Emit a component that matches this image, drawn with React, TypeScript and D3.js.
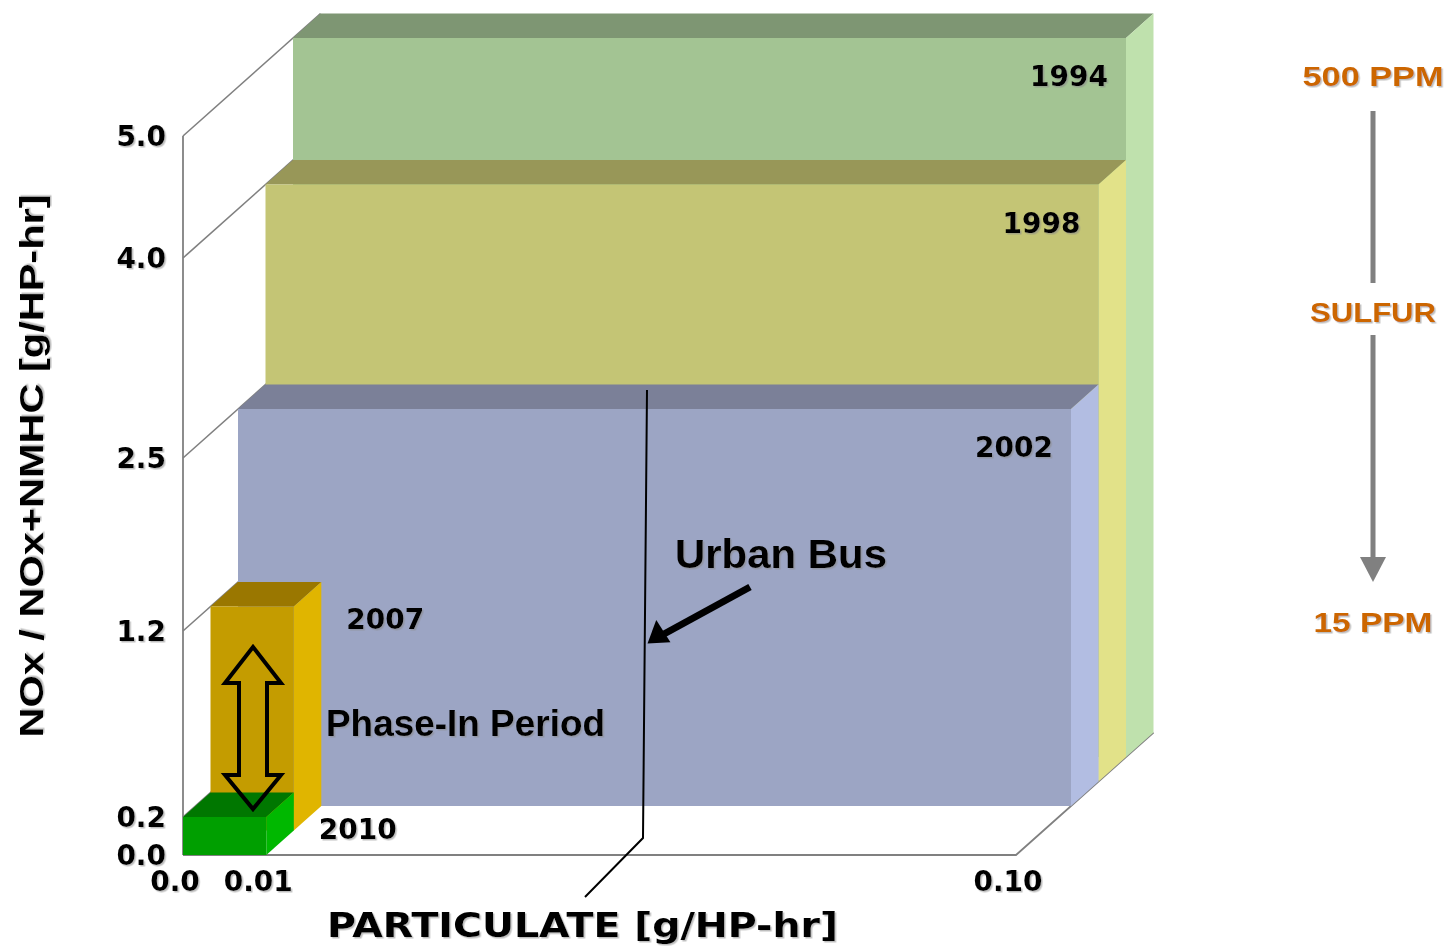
import React from 'react';
import * as d3 from 'd3';

const years = ['1994', '1998', '2002', '2007', '2010'];
const noxValues = [5.0, 4.0, 2.5, 1.2, 0.2];
const pmValues = [0.1, 0.1, 0.1, 0.01, 0.01];
const depthRows = [4, 3, 2, 1, 0];
const frontColors = ['#A3C493', '#C4C575', '#9CA5C4', '#C49C00', '#009F00'];
const topColors = ['#7E9673', '#989758', '#7B8098', '#9A7700', '#007700'];
const sideColors = ['#BFE1AD', '#E2E289', '#B2BDE2', '#E0B500', '#00B800'];

const yTicks = [0, 0.2, 1.2, 2.5, 4.0, 5.0];
const yTickLabels = ['0.0', '0.2', '1.2', '2.5', '4.0', '5.0'];
const xTicks = [0, 0.01, 0.1];
const xTickLabels = ['0.0', '0.01', '0.10'];

const sulfurLabels = ['500 PPM', 'SULFUR', '15 PPM'];

const W = 1450;
const H = 948;
const DX = 27.5;
const DY = 24.5;
const ROWS = 5;

const x = d3.scaleLinear().domain([0, 0.1]).range([183, 1016]);
const y = d3.scaleLinear().domain(yTicks).range([855, 817, 631, 458, 258, 136]);

const VERD = "'DejaVu Sans', Verdana, sans-serif";
const ARIAL = "'Liberation Sans', Arial, sans-serif";

function pts(p: number[][]) {
  return p.map((q) => q.join(',')).join(' ');
}

export default function App() {
  const x0 = x(0);
  const y0 = y(0);
  const bars = years.map((yr, i) => {
    const r = depthRows[i];
    const ox = r * DX;
    const oy = -r * DY;
    const xa = x(0) + ox;
    const xb = x(pmValues[i]) + ox;
    const yt = y(noxValues[i]) + oy;
    const yb = y(0) + oy;
    return { yr, i, r, xa, xb, yt, yb };
  });

  const line = d3.line();

  return (
    <svg width={W} height={H} style={{ display: 'block', position: 'absolute', left: 0, top: 0, background: '#fff' }}>
      <defs>
        <filter id="sh" x="-10%" y="-10%" width="130%" height="140%">
          <feDropShadow dx="1.5" dy="1.5" stdDeviation="0.6" floodColor="#888" floodOpacity="0.55" />
        </filter>
      </defs>
      <rect x={0} y={0} width={W} height={H} fill="#fff" />

      {/* wall grid lines */}
      {yTicks.map((v, k) => (
        <path key={'g' + k} d={line([[x0, y(v)], [x0 + ROWS * DX, y(v) - ROWS * DY]]) as string} stroke="#808080" strokeWidth={1.6} fill="none" />
      ))}
      <path d={line([[x0, y(5.0)], [x0, y0]]) as string} stroke="#808080" strokeWidth={1.8} fill="none" />
      <path d={line([[x0, y0], [x(0.1), y0], [x(0.1) + ROWS * DX, y0 - ROWS * DY]]) as string} stroke="#808080" strokeWidth={1.8} fill="none" />

      {/* bars */}
      {bars.map((b) => (
        <g key={b.yr}>
          <polygon points={pts([[b.xa, b.yt], [b.xb, b.yt], [b.xb + DX, b.yt - DY], [b.xa + DX, b.yt - DY]])} fill={topColors[b.i]} />
          <polygon points={pts([[b.xb, b.yt], [b.xb + DX, b.yt - DY], [b.xb + DX, b.yb - DY], [b.xb, b.yb]])} fill={sideColors[b.i]} />
          <rect x={b.xa} y={b.yt} width={b.xb - b.xa} height={b.yb - b.yt} fill={frontColors[b.i]} />
        </g>
      ))}

      {/* year labels */}
      {bars.map((b) =>
        pmValues[b.i] >= 0.05 ? (
          <text key={'l' + b.yr} x={b.xb - 18} y={b.yt + 48} textAnchor="end" fontFamily={VERD} fontWeight="bold" fontSize={28} fill="#000" filter="url(#sh)">
            {b.yr}
          </text>
        ) : (
          <text key={'l' + b.yr} x={b.xb + DX + 25} y={b.yt + 22} textAnchor="start" fontFamily={VERD} fontWeight="bold" fontSize={28} fill="#000" filter="url(#sh)">
            {b.yr}
          </text>
        )
      )}

      {/* y tick labels */}
      {yTicks.map((v, k) => (
        <text key={'yt' + k} x={166} y={y(v) + 10} textAnchor="end" fontFamily={VERD} fontWeight="bold" fontSize={28} fill="#000" filter="url(#sh)">
          {yTickLabels[k]}
        </text>
      ))}

      {/* x tick labels */}
      {xTicks.map((v, k) => (
        <text key={'xt' + k} x={x(v) - 8} y={891} textAnchor="middle" fontFamily={VERD} fontWeight="bold" fontSize={28} fill="#000" filter="url(#sh)">
          {xTickLabels[k]}
        </text>
      ))}

      {/* axis titles */}
      <text x={327} y={937} fontFamily={VERD} fontWeight="bold" fontSize={33} textLength={511} lengthAdjust="spacingAndGlyphs" fill="#000" filter="url(#sh)">
        PARTICULATE [g/HP-hr]
      </text>
      <text transform="translate(43,466) rotate(-90)" textAnchor="middle" fontFamily={ARIAL} fontWeight="bold" fontSize={33} textLength={543} lengthAdjust="spacingAndGlyphs" fill="#000" filter="url(#sh)">
        NOx / NOx+NMHC [g/HP-hr]
      </text>

      {/* Urban bus annotation */}
      <path d={line([[647, 390], [643, 838], [585, 897]]) as string} stroke="#000" strokeWidth={2} fill="none" />
      <path d={line([[750, 587], [664, 634]]) as string} stroke="#000" strokeWidth={7} fill="none" />
      <polygon points={pts([[647, 643], [657, 620], [670, 643]])} fill="#000" transform="rotate(-3 657 634)" />
      <text x={675} y={568} fontFamily={ARIAL} fontWeight="bold" fontSize={41} textLength={212} lengthAdjust="spacingAndGlyphs" fill="#000" filter="url(#sh)">
        Urban Bus
      </text>

      {/* phase-in arrow */}
      <polygon
        points={pts([
          [253, 647], [281, 683], [267, 683], [267, 775], [281, 775], [253, 809],
          [225, 775], [239, 775], [239, 683], [225, 683],
        ])}
        fill="none" stroke="#000" strokeWidth={4} strokeLinejoin="miter"
      />
      <text x={326} y={736} fontFamily={ARIAL} fontWeight="bold" fontSize={36} textLength={279} lengthAdjust="spacingAndGlyphs" fill="#000" filter="url(#sh)">
        Phase-In Period
      </text>

      {/* sulfur arrow */}
      <rect x={1370.5} y={111} width={5} height={172} fill="#808080" />
      <rect x={1370.5} y={335} width={5} height={224} fill="#808080" />
      <polygon points={pts([[1360, 557], [1386, 557], [1373, 582]])} fill="#808080" />
      <text x={1373} y={86} textAnchor="middle" fontFamily={ARIAL} fontWeight="bold" fontSize={28} textLength={141} lengthAdjust="spacingAndGlyphs" fill="#CC6600" filter="url(#sh)">
        {sulfurLabels[0]}
      </text>
      <text x={1373} y={322} textAnchor="middle" fontFamily={ARIAL} fontWeight="bold" fontSize={28} textLength={126} lengthAdjust="spacingAndGlyphs" fill="#CC6600" filter="url(#sh)">
        {sulfurLabels[1]}
      </text>
      <text x={1373} y={632} textAnchor="middle" fontFamily={ARIAL} fontWeight="bold" fontSize={28} textLength={119} lengthAdjust="spacingAndGlyphs" fill="#CC6600" filter="url(#sh)">
        {sulfurLabels[2]}
      </text>
    </svg>
  );
}
